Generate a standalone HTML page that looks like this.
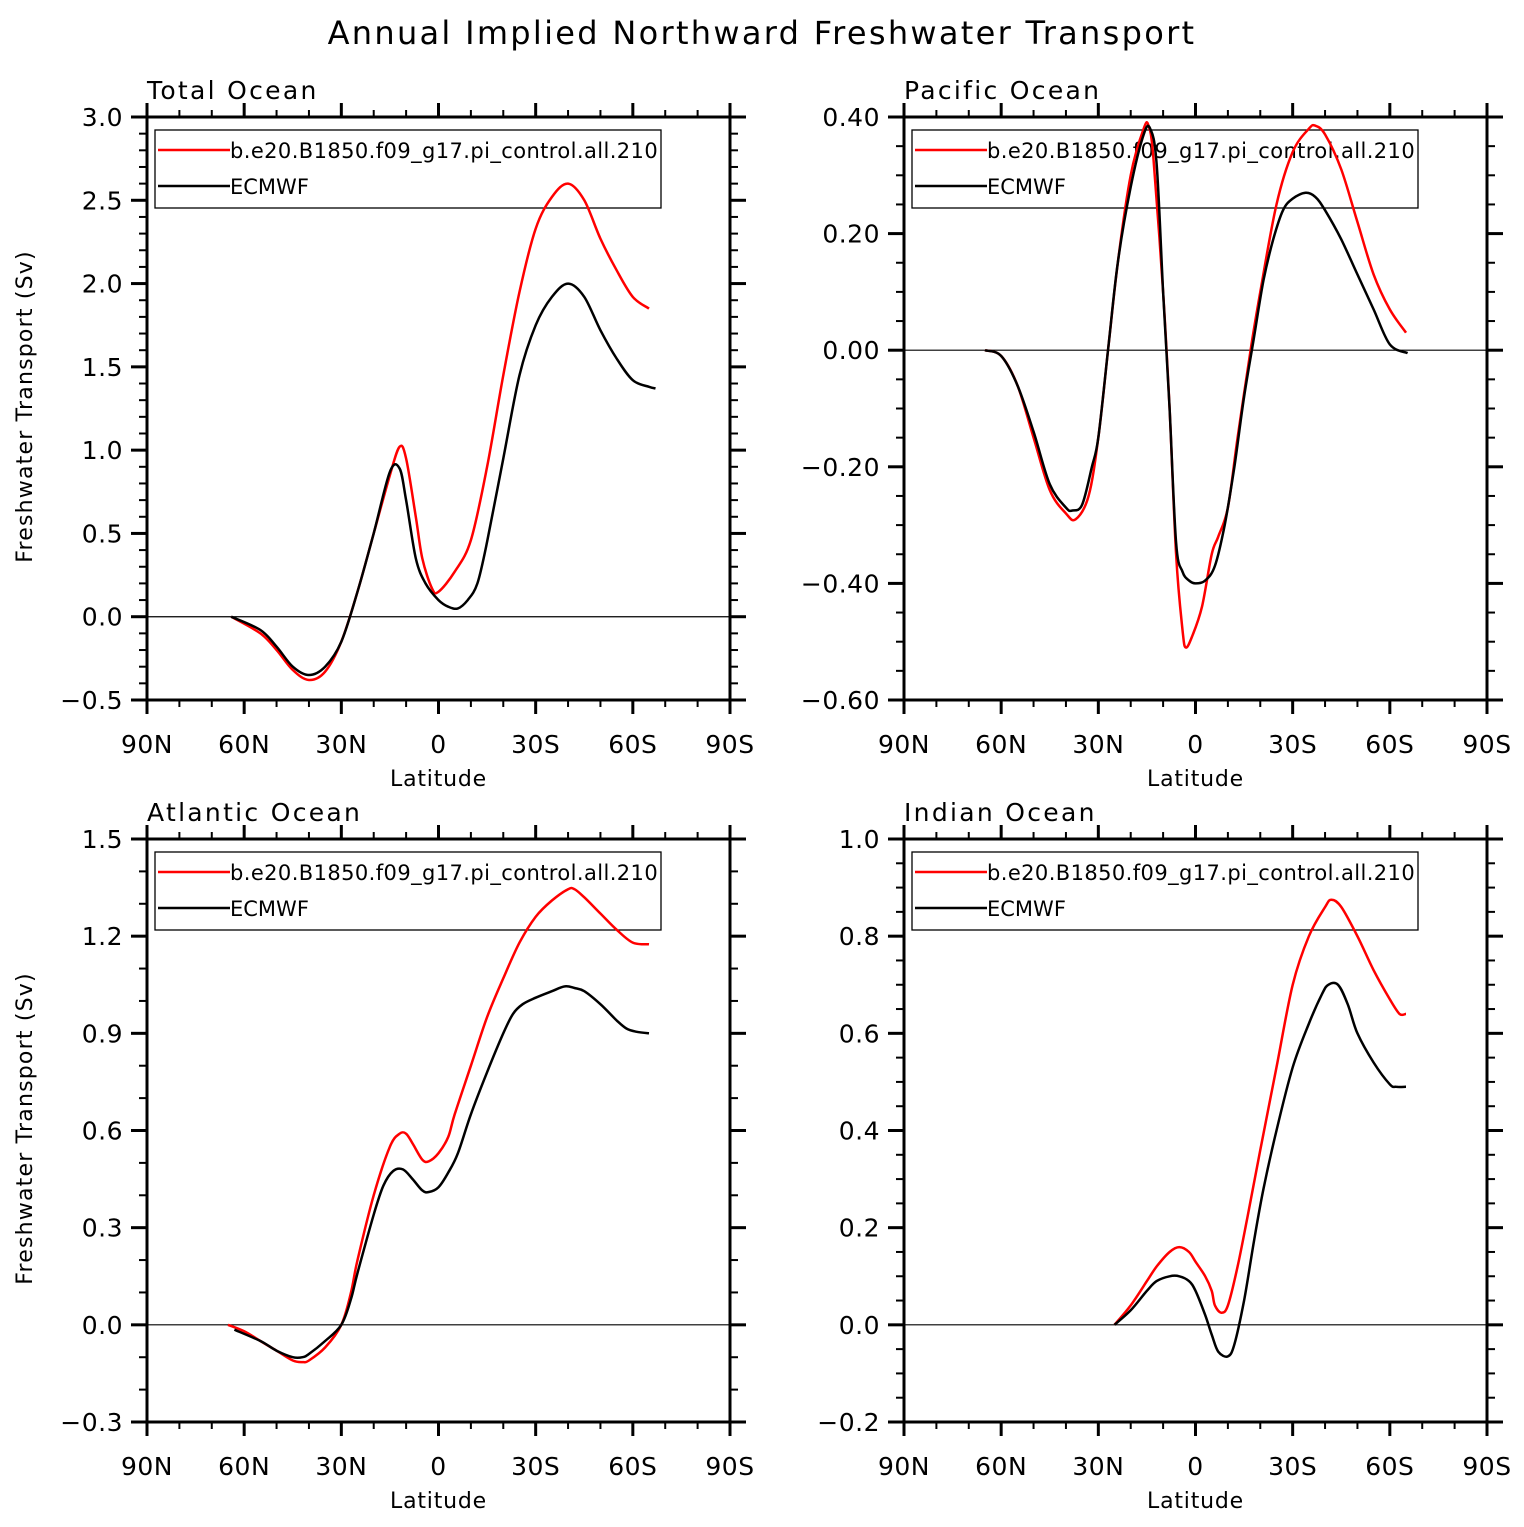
<!DOCTYPE html>
<html><head><meta charset="utf-8"><style>
body{margin:0;background:#fff;}
svg{display:block;font-family:"DejaVu Sans","Liberation Sans",sans-serif;}
</style></head><body>
<svg id="c" width="1524" height="1527">
<text x="762" y="44" text-anchor="middle" font-size="32" letter-spacing="2.3">Annual Implied Northward Freshwater Transport</text>
</svg>
<script>
// latitudes (deg, + = N) and values (Sv)
const totLatR=[64,55,50,45,40,35,30,25,20,15,12,10,7,5,2,0,-5,-10,-15,-20,-25,-30,-35,-40,-45,-50,-55,-60,-65];
const totValR=[0,-0.1,-0.2,-0.32,-0.38,-0.33,-0.15,0.15,0.5,0.85,1.02,0.95,0.6,0.35,0.17,0.15,0.27,0.46,0.9,1.45,1.95,2.33,2.52,2.6,2.5,2.27,2.08,1.92,1.85];
const totLatB=[64,55,50,45,40,35,30,25,20,15,12,10,7,4,0,-3,-6,-9,-12,-15,-20,-25,-30,-35,-40,-45,-50,-55,-60,-65,-67];
const totValB=[0,-0.08,-0.18,-0.3,-0.35,-0.3,-0.15,0.15,0.5,0.87,0.89,0.7,0.35,0.2,0.1,0.06,0.05,0.1,0.2,0.45,0.95,1.45,1.75,1.92,2.0,1.92,1.72,1.55,1.42,1.38,1.37];
const pacLatR=[65,60,55,50,45,40,37,33,30,27,24,20,16,14.5,13,10,8,6,4,3,1,-2,-5,-7,-10,-13,-17,-20,-25,-30,-35,-37,-40,-45,-50,-55,-60,-65];
const pacValR=[0,-0.01,-0.06,-0.15,-0.24,-0.28,-0.29,-0.25,-0.15,0,0.15,0.3,0.38,0.385,0.33,0.1,-0.1,-0.35,-0.48,-0.51,-0.49,-0.44,-0.35,-0.32,-0.27,-0.15,0,0.1,0.25,0.34,0.38,0.385,0.37,0.31,0.22,0.13,0.07,0.03];
const pacLatB=[65,60,55,50,45,40,38,35,32,30,27,24,20,16,14,12,10,8,6,4,2,0,-3,-6,-9,-12,-15,-18,-21,-24,-27,-30,-34,-37,-40,-45,-50,-55,-60,-65.5];
const pacValB=[0,-0.01,-0.06,-0.14,-0.23,-0.27,-0.275,-0.265,-0.2,-0.15,0,0.15,0.28,0.37,0.38,0.32,0.1,-0.1,-0.33,-0.38,-0.395,-0.4,-0.395,-0.37,-0.3,-0.2,-0.08,0.02,0.12,0.19,0.24,0.26,0.27,0.263,0.24,0.19,0.13,0.07,0.01,-0.005];
const atlLatR=[65,60,55,50,45,42,40,35,30,27,25,20,15,12,10,8,5,3,0,-3,-5,-10,-15,-20,-25,-30,-35,-40,-42,-45,-50,-55,-60,-65];
const atlValR=[0,-0.02,-0.05,-0.08,-0.11,-0.115,-0.11,-0.07,0,0.1,0.2,0.4,0.55,0.59,0.59,0.56,0.51,0.505,0.53,0.58,0.65,0.8,0.95,1.07,1.18,1.26,1.31,1.345,1.345,1.32,1.27,1.22,1.18,1.175];
const atlLatB=[63,55,50,45,42,40,35,30,27,25,20,17,14,11,8,5,3,0,-3,-6,-10,-15,-20,-23,-26,-30,-35,-39,-42,-45,-50,-55,-58,-61,-65];
const atlValB=[-0.015,-0.05,-0.08,-0.1,-0.1,-0.09,-0.05,0,0.08,0.16,0.34,0.43,0.475,0.48,0.45,0.415,0.41,0.425,0.47,0.53,0.65,0.78,0.9,0.96,0.99,1.01,1.03,1.045,1.04,1.03,0.99,0.94,0.915,0.905,0.9];
const indLatR=[25,20,15,12,8,5,2,0,-3,-5,-6,-8,-10,-13,-16,-20,-25,-30,-35,-40,-42,-45,-50,-55,-60,-63,-65];
const indValR=[0,0.04,0.09,0.12,0.15,0.16,0.15,0.13,0.1,0.07,0.04,0.025,0.04,0.12,0.22,0.36,0.53,0.7,0.8,0.86,0.875,0.86,0.8,0.73,0.67,0.64,0.64];
const indLatB=[25,20,15,12,8,5,2,0,-3,-5,-7,-10,-12,-15,-18,-21,-25,-30,-35,-39,-41,-44,-47,-50,-55,-60,-62,-65];
const indValB=[0,0.03,0.07,0.09,0.1,0.1,0.09,0.07,0.02,-0.02,-0.055,-0.065,-0.04,0.05,0.17,0.28,0.4,0.53,0.62,0.68,0.7,0.7,0.66,0.6,0.54,0.495,0.49,0.49];
const xTickLabels=["90N","60N","30N","0","30S","60S","90S"];

const NS="http://www.w3.org/2000/svg";
const svg=document.getElementById('c');
function mk(tag,attrs,parent){const e=document.createElementNS(NS,tag);for(const k in attrs)e.setAttribute(k,attrs[k]);(parent||svg).appendChild(e);return e;}
function smooth(P){ // catmull-rom
 let d='M'+P[0][0].toFixed(1)+','+P[0][1].toFixed(1);
 for(let i=0;i<P.length-1;i++){
  const p0=P[Math.max(0,i-1)],p1=P[i],p2=P[i+1],p3=P[Math.min(P.length-1,i+2)];
  const c1=[p1[0]+(p2[0]-p0[0])/6,p1[1]+(p2[1]-p0[1])/6];
  const c2=[p2[0]-(p3[0]-p1[0])/6,p2[1]-(p3[1]-p1[1])/6];
  d+=` C${c1[0].toFixed(1)},${c1[1].toFixed(1)} ${c2[0].toFixed(1)},${c2[1].toFixed(1)} ${p2[0].toFixed(1)},${p2[1].toFixed(1)}`;
 }
 return d;
}

const panels=[
 {name:'total',title:'Total Ocean',x0:147,y0:117,ymin:-0.5,ymax:3.0,major:0.5,minor:0.1,dec:1,lr:[totLatR,totValR],lb:[totLatB,totValB],ylab:true},
 {name:'pacific',title:'Pacific Ocean',x0:904,y0:117,ymin:-0.6,ymax:0.4,major:0.2,minor:0.05,dec:2,lr:[pacLatR,pacValR],lb:[pacLatB,pacValB],ylab:false},
 {name:'atlantic',title:'Atlantic Ocean',x0:147,y0:839,ymin:-0.3,ymax:1.5,major:0.3,minor:0.1,dec:1,lr:[atlLatR,atlValR],lb:[atlLatB,atlValB],ylab:true},
 {name:'indian',title:'Indian Ocean',x0:904,y0:839,ymin:-0.2,ymax:1.0,major:0.2,minor:0.05,dec:1,lr:[indLatR,indValR],lb:[indLatB,indValB],ylab:false},
];
const W=583,H=583;
panels.forEach(p=>{
 const g=mk('g',{});
 
 
 const xs=lat=>p.x0+(90-lat)/180*W;
 const ys=v=>p.y0+(p.ymax-v)/(p.ymax-p.ymin)*H;
 const t=mk('text',{x:p.x0,y:p.y0-18,'font-size':25,'letter-spacing':2.3},g);t.textContent=p.title;
 
 const z=mk('line',{x1:p.x0,x2:p.x0+W,y1:ys(0),y2:ys(0),stroke:'#000','stroke-width':1.2},g);
 
 // legend (transparent)
 const lg=mk('g',{},g);
 
 const lx=p.x0+8,ly=p.y0+13;
 mk('rect',{x:lx,y:ly,width:506,height:78,fill:'none',stroke:'#000','stroke-width':1.3},lg);
 mk('line',{x1:lx+3,x2:lx+75,y1:ly+20,y2:ly+20,stroke:'#f00','stroke-width':2.5},lg);
 mk('line',{x1:lx+3,x2:lx+75,y1:ly+56,y2:ly+56,stroke:'#000','stroke-width':2.5},lg);
 const t1=mk('text',{x:lx+75,y:ly+28,'font-size':21,'letter-spacing':0.3,textLength:428},lg);t1.textContent='b.e20.B1850.f09_g17.pi_control.all.210';
 
 const t2=mk('text',{x:lx+75,y:ly+64,'font-size':21},lg);t2.textContent='ECMWF';
 
 [[p.lr,'#f00','model-line'],[p.lb,'#000','ecmwf-line']].forEach(([d,c,n])=>{
  const P=d[0].map((la,i)=>[xs(la),ys(d[1][i])]);
  const pl=mk('path',{d:smooth(P),fill:'none',stroke:c,'stroke-width':2.5,'stroke-linejoin':'round'},g);
  
 });
 const fr=mk('rect',{x:p.x0,y:p.y0,width:W,height:H,fill:'none',stroke:'#000','stroke-width':3},g);
 
 const n=Math.round((p.ymax-p.ymin)/p.minor);
 for(let i=0;i<=n;i++){
  const v=p.ymin+i*p.minor;const y=ys(v);
  const isMaj=Math.abs(v/p.major-Math.round(v/p.major))<1e-6;
  const L=isMaj?16:8;
  mk('line',{x1:p.x0-L,x2:p.x0,y1:y,y2:y,stroke:'#000','stroke-width':isMaj?3:2},g);
  mk('line',{x1:p.x0+W,x2:p.x0+W+L,y1:y,y2:y,stroke:'#000','stroke-width':isMaj?3:2},g);
  if(isMaj){const tl=mk('text',{x:p.x0-24,y:y+9,'font-size':25,'text-anchor':'end','letter-spacing':0.5},g);
   tl.textContent=(Math.abs(v)<1e-9?0:v).toFixed(p.dec).replace('-','\u2212');
   }
 }
 for(let la=90;la>=-90;la-=10){
  const x=xs(la);const isMaj=la%30===0;
  mk('line',{x1:x,x2:x,y1:p.y0+H,y2:p.y0+H+(isMaj?14:7),stroke:'#000','stroke-width':isMaj?3:2},g);
  mk('line',{x1:x,x2:x,y1:p.y0,y2:p.y0-(isMaj?14:7),stroke:'#000','stroke-width':isMaj?3:2},g);
  if(isMaj){const tl=mk('text',{x:x,y:p.y0+H+53,'font-size':25,'text-anchor':'middle','letter-spacing':0.5},g);
   tl.textContent=xTickLabels[(90-la)/30];
   }
 }
 const xl=mk('text',{x:p.x0+W/2,y:p.y0+H+86,'font-size':22,'text-anchor':'middle','letter-spacing':0.8},g);xl.textContent='Latitude';
 
 if(p.ylab){const yl=mk('text',{x:0,y:0,'font-size':22,'text-anchor':'middle','letter-spacing':1.2,transform:`translate(32,${p.y0+H/2-2}) rotate(-90)`},g);
  yl.textContent='Freshwater Transport (Sv)';
  }
});
</script>
</body></html>
